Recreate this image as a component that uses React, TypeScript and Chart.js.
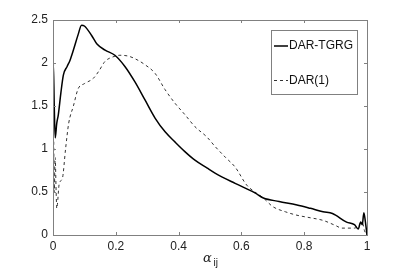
import React, { useEffect, useRef } from "react";
import { Chart, registerables } from "chart.js";

Chart.register(...registerables);

// DAR-TGRG (solid)
const alphaTGRG = [0, 0.001, 0.004, 0.007, 0.012, 0.017, 0.025, 0.033, 0.045, 0.054, 0.065, 0.08, 0.091, 0.1, 0.123, 0.14, 0.166, 0.197, 0.229, 0.261, 0.293, 0.325, 0.357, 0.389, 0.42, 0.452, 0.49, 0.516, 0.58, 0.643, 0.67, 0.72, 0.777, 0.82, 0.86, 0.89, 0.935, 0.96, 0.972, 0.98, 0.985, 0.99, 0.995, 1];
const densityTGRG = [0, 2.0, 1.5, 1.13, 1.3, 1.4, 1.65, 1.86, 1.96, 2.03, 2.15, 2.33, 2.44, 2.43, 2.32, 2.22, 2.15, 2.09, 1.96, 1.78, 1.57, 1.36, 1.2, 1.08, 0.97, 0.87, 0.78, 0.72, 0.6, 0.49, 0.43, 0.39, 0.35, 0.31, 0.27, 0.25, 0.15, 0.12, 0.07, 0.15, 0.12, 0.26, 0.15, 0];

// DAR(1) (dashed)
const alphaDAR = [0, 0.002, 0.004, 0.007, 0.01, 0.012, 0.02, 0.03, 0.04, 0.05, 0.065, 0.08, 0.1, 0.128, 0.145, 0.166, 0.19, 0.213, 0.24, 0.261, 0.293, 0.325, 0.357, 0.389, 0.42, 0.452, 0.49, 0.516, 0.55, 0.58, 0.617, 0.643, 0.67, 0.7, 0.74, 0.777, 0.82, 0.86, 0.9, 0.92, 0.96, 0.975, 0.985, 0.992, 1];
const densityDAR = [0, 1.1, 0.5, 0.9, 0.5, 0.31, 0.6, 0.66, 1.0, 1.3, 1.5, 1.7, 1.76, 1.82, 1.9, 2.02, 2.07, 2.09, 2.08, 2.05, 1.98, 1.88, 1.69, 1.53, 1.4, 1.26, 1.14, 1.03, 0.9, 0.79, 0.58, 0.5, 0.43, 0.33, 0.27, 0.23, 0.2, 0.17, 0.11, 0.08, 0.08, 0.12, 0.15, 0.05, 0];

const xTicks = [0, 0.2, 0.4, 0.6, 0.8, 1];
const yTicks = [0, 0.5, 1, 1.5, 2, 2.5];
const seriesNames = ["DAR-TGRG", "DAR(1)"];

const FONT = "'Liberation Sans', Arial, Helvetica, sans-serif";

const framePlugin = {
  id: "frame",
  afterDraw(chart: any) {
    const { ctx, chartArea } = chart;
    const { left, right, top, bottom } = chartArea;
    const xs = chart.scales.x;
    const ys = chart.scales.y;
    ctx.save();
    // box
    ctx.strokeStyle = "#808080";
    ctx.lineWidth = 1;
    ctx.setLineDash([]);
    ctx.strokeRect(Math.round(left) + 0.5, Math.round(top) + 0.5, Math.round(right - left), Math.round(bottom - top));
    // ticks inside
    const tl = 3;
    ctx.beginPath();
    xTicks.forEach((v) => {
      const px = Math.round(xs.getPixelForValue(v)) + 0.5;
      ctx.moveTo(px, bottom);
      ctx.lineTo(px, bottom - tl);
      ctx.moveTo(px, top);
      ctx.lineTo(px, top + tl);
    });
    yTicks.forEach((v) => {
      const py = Math.round(ys.getPixelForValue(v)) + 0.5;
      ctx.moveTo(left, py);
      ctx.lineTo(left + tl, py);
      ctx.moveTo(right, py);
      ctx.lineTo(right - tl, py);
    });
    ctx.stroke();

    // legend
    const lx = 271.5, ly = 30.5, lw = 86, lh = 64;
    ctx.fillStyle = "#ffffff";
    ctx.fillRect(lx, ly, lw, lh);
    ctx.strokeStyle = "#808080";
    ctx.strokeRect(lx, ly, lw, lh);
    ctx.font = `12px ${FONT}`;
    ctx.textBaseline = "middle";
    ctx.textAlign = "left";
    // entry 1
    ctx.strokeStyle = "#000";
    ctx.lineWidth = 1.5;
    ctx.beginPath();
    ctx.moveTo(274, 46);
    ctx.lineTo(288, 46);
    ctx.stroke();
    ctx.fillStyle = "#111";
    ctx.fillText(seriesNames[0], 289, 46);
    // entry 2
    ctx.lineWidth = 1;
    ctx.strokeStyle = "#333";
    ctx.setLineDash([3, 3]);
    ctx.beginPath();
    ctx.moveTo(274, 80.5);
    ctx.lineTo(288, 80.5);
    ctx.stroke();
    ctx.setLineDash([]);
    ctx.fillText(seriesNames[1], 289, 80.5);

    // x-axis title: alpha_ij
    ctx.fillStyle = "#222";
    ctx.font = `italic 13px 'DejaVu Serif', serif`;
    ctx.textBaseline = "alphabetic";
    ctx.fillText("\u03b1", 203, 262);
    ctx.font = `10px ${FONT}`;
    ctx.fillText("ij", 213.5, 266);
    ctx.restore();
  },
};

export default function App() {
  const ref = useRef<HTMLCanvasElement>(null);
  useEffect(() => {
    if (!ref.current) return;
    const chart = new Chart(ref.current, {
      type: "line",
      data: {
        datasets: [
          {
            label: seriesNames[0],
            data: alphaTGRG.map((x, i) => ({ x, y: densityTGRG[i] })),
            borderColor: "#000",
            borderWidth: 1.5,
            pointRadius: 0,
            cubicInterpolationMode: "monotone",
            fill: false,
          },
          {
            label: seriesNames[1],
            data: alphaDAR.map((x, i) => ({ x, y: densityDAR[i] })),
            borderColor: "#333",
            borderWidth: 1,
            borderDash: [3, 3],
            pointRadius: 0,
            cubicInterpolationMode: "monotone",
            fill: false,
          },
        ],
      },
      options: {
        animation: false,
        responsive: false,
        maintainAspectRatio: false,
        layout: { padding: { left: 0, top: 20, right: 40, bottom: 0 } },
        plugins: { legend: { display: false }, tooltip: { enabled: false } },
        scales: {
          x: {
            type: "linear",
            min: 0,
            max: 1,
            afterFit: (s: any) => { s.height = 35; },
            afterBuildTicks: (s: any) => { s.ticks = xTicks.map((v) => ({ value: v })); },
            grid: { display: false, drawTicks: false },
            border: { display: false },
            ticks: {
              padding: 4,
              color: "#222",
              font: { family: FONT, size: 12 },
              callback: (v: any) => String(Number(Number(v).toFixed(1))),
            },
          },
          y: {
            type: "linear",
            min: 0,
            max: 2.5,
            afterFit: (s: any) => { s.width = 53; },
            afterBuildTicks: (s: any) => { s.ticks = yTicks.map((v) => ({ value: v })); },
            grid: { display: false, drawTicks: false },
            border: { display: false },
            ticks: {
              padding: 5,
              color: "#222",
              font: { family: FONT, size: 12 },
              callback: (v: any) => String(Number(Number(v).toFixed(1))),
            },
          },
        },
      },
      plugins: [framePlugin],
    });
    return () => chart.destroy();
  }, []);
  return (
    <div style={{ position: "absolute", left: 0, top: 0, width: 407, height: 270, background: "#fff" }}>
      <canvas ref={ref} width={407} height={270} style={{ display: "block" }} />
    </div>
  );
}
